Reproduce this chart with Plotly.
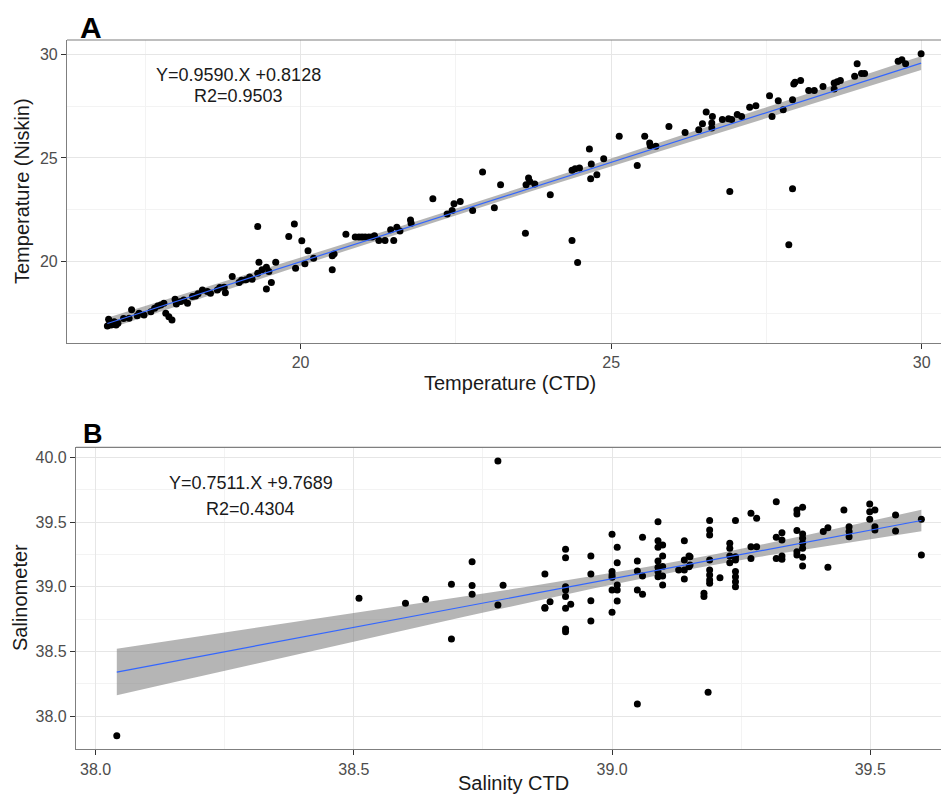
import numpy as np
import plotly.graph_objects as go

# Panel A: temperature, CTD vs Niskin bottle
temp_ctd = [16.91, 16.95, 17.00, 16.89, 17.03, 16.93, 17.06, 16.98,
            17.28, 17.24, 17.37, 17.48, 17.59, 17.70, 17.80, 17.83, 17.88, 17.93, 17.98, 18.07,
            18.18, 18.26, 18.31, 18.42, 18.55, 18.66, 18.79, 18.77, 18.90, 19.01, 19.12, 19.22,
            19.31, 19.33, 19.31, 19.45, 19.45, 19.53, 19.49, 19.60, 19.81, 19.90, 20.02, 20.12,
            19.92, 20.07, 20.21,
            17.15, 17.40, 17.65, 17.75, 18.00, 18.12, 18.35, 18.50, 18.70, 19.05, 19.18, 19.38,
            20.51, 20.51, 20.54, 20.73, 20.88, 20.94, 20.99, 21.04, 21.10, 21.15, 21.19, 21.26,
            21.36, 21.45, 21.50, 21.55, 21.60, 21.77, 21.78, 22.13, 22.36, 22.44, 22.47, 22.57,
            22.77, 22.93, 23.12, 23.22, 23.62, 23.63, 23.67, 23.69, 23.77, 24.02, 24.37, 24.46,
            24.37, 24.42, 24.49, 24.65, 24.68, 24.67, 24.77, 24.88, 25.13,
            25.42, 25.54, 25.62, 25.63, 25.72, 25.93, 26.19, 26.41, 26.47, 26.53, 26.62, 26.63,
            26.62, 26.79, 26.89, 26.94, 26.91, 27.03, 27.10, 27.23, 27.33, 27.55, 27.59, 27.69,
            27.77, 27.86, 27.92, 27.92, 27.94, 27.96, 28.05, 28.18, 28.27, 28.41, 28.59, 28.59,
            28.64, 28.69, 28.92, 28.96, 29.03, 29.08, 29.62, 29.68, 29.74, 29.99]
temp_niskin = [17.22, 16.94, 17.10, 16.89, 16.94, 17.05, 17.02, 16.98,
               17.67, 17.27, 17.38, 17.42, 17.58, 17.86, 17.99, 17.51, 17.34, 17.18, 18.18, 18.07,
               17.99, 18.31, 18.34, 18.63, 18.47, 18.63, 18.50, 18.76, 19.28, 18.99, 19.12, 19.15,
               21.69, 19.97, 19.44, 19.73, 18.68, 18.99, 19.52, 19.97, 21.21, 21.81, 21.00, 20.52,
               19.68, 19.89, 20.16,
               17.25, 17.50, 17.75, 17.90, 17.95, 18.15, 18.45, 18.55, 18.75, 19.10, 19.25, 19.60,
               19.60, 20.28, 20.37, 21.32, 21.19, 21.19, 21.18, 21.19, 21.18, 21.19, 21.24, 21.01,
               21.01, 21.53, 21.01, 21.66, 21.48, 22.01, 21.85, 23.03, 22.29, 22.46, 22.79, 22.90,
               22.46, 24.32, 22.59, 23.71, 21.37, 23.71, 24.03, 23.86, 23.74, 23.22, 21.01, 19.95,
               24.40, 24.48, 24.51, 25.43, 24.71, 24.00, 24.19, 24.96, 26.04,
               24.64, 26.04, 25.72, 25.59, 25.56, 26.52, 26.23, 26.36, 26.65, 27.22, 26.69, 27.00,
               26.44, 26.85, 26.89, 26.85, 23.38, 27.09, 27.00, 27.44, 27.52, 28.00, 27.00, 27.76,
               27.33, 20.81, 23.51, 27.81, 28.57, 28.65, 28.74, 28.25, 28.25, 28.45, 28.33, 28.62,
               28.67, 28.74, 28.94, 29.55, 29.07, 29.07, 29.66, 29.74, 29.55, 30.03]

# Panel B: salinity, CTD vs salinometer
sal_ctd = [38.041, 38.510, 38.600, 38.639, 38.689, 38.689, 38.729, 38.729, 38.729, 38.779,
           38.779, 38.789, 38.870, 38.870, 38.870, 38.880, 38.910, 38.910, 38.910, 38.910,
           38.910, 38.910, 38.910, 38.910, 38.920, 38.959, 38.959, 38.959, 38.959, 39.000,
           39.000, 39.000, 39.000, 39.000, 39.000, 39.010, 39.010, 39.010, 39.010, 39.010,
           39.049, 39.049, 39.049, 39.049, 39.059, 39.059, 39.059, 39.089, 39.089, 39.089,
           39.089, 39.089, 39.089, 39.089, 39.098, 39.098, 39.098, 39.098, 39.098, 39.129,
           39.140, 39.140, 39.140, 39.140, 39.149, 39.149, 39.151, 39.151,
           39.186, 39.189, 39.189, 39.189, 39.189, 39.189, 39.189, 39.189, 39.189, 39.178,
           39.178, 39.209, 39.228, 39.228, 39.228, 39.228, 39.239, 39.239, 39.239, 39.239,
           39.239, 39.239, 39.239, 39.269, 39.280, 39.269, 39.280, 39.269, 39.318, 39.318,
           39.329, 39.329, 39.318, 39.329, 39.329, 39.358, 39.358, 39.369, 39.358, 39.369,
           39.369, 39.369, 39.369, 39.358, 39.358, 39.369, 39.369, 39.409, 39.418, 39.418,
           39.449, 39.459, 39.459, 39.459, 39.499, 39.499, 39.499, 39.509, 39.509, 39.509,
           39.549, 39.549, 39.599, 39.599]
sal_meter = [37.850, 38.911, 38.873, 38.903, 39.019, 38.597, 39.194, 39.009, 38.942, 39.971,
             38.859, 39.012, 39.099, 38.834, 38.840, 38.885, 39.290, 39.225, 39.001, 38.975,
             38.924, 38.834, 38.674, 38.653, 38.865, 39.238, 39.099, 38.893, 38.736, 39.405,
             39.117, 39.091, 39.073, 38.975, 38.803, 39.305, 39.186, 39.014, 38.975, 38.890,
             39.199, 39.122, 38.975, 38.095, 39.382, 39.083, 38.942, 39.503, 39.356, 39.305,
             39.199, 39.150, 39.117, 39.078, 39.323, 39.238, 39.157, 39.083, 39.014, 39.130,
             39.356, 39.207, 39.130, 39.060, 39.238, 39.155, 39.232, 39.168,
             38.185, 39.511, 39.439, 39.400, 39.207, 39.130, 39.091, 39.053, 39.027, 38.950,
             38.924, 39.070, 39.336, 39.297, 39.238, 39.186, 39.511, 39.232, 39.207, 39.117,
             39.078, 39.039, 39.001, 39.568, 39.529, 39.310, 39.310, 39.219, 39.657, 39.382,
             39.418, 39.362, 39.219, 39.238, 39.212, 39.562, 39.593, 39.614, 39.434, 39.408,
             39.375, 39.336, 39.297, 39.271, 39.246, 39.228, 39.161, 39.426, 39.456, 39.150,
             39.593, 39.464, 39.426, 39.387, 39.639, 39.580, 39.521, 39.593, 39.464, 39.439,
             39.554, 39.431, 39.521, 39.246]

fit_a = {"slope": 0.9590, "intercept": 0.8128, "r2": 0.9503}
fit_b = {"slope": 0.7511, "intercept": 9.7689, "r2": 0.4304}

# the page body keeps its 8px margin, so the figure is 16px smaller than the window
PAGE_W, PAGE_H, OFF = 949, 804, 8
W, H = PAGE_W - 2 * OFF, PAGE_H - 2 * OFF
FONT = "Arial, Liberation Sans, sans-serif"


def px(x):
    # page pixel -> paper fraction
    return (x - OFF) / W


def py(y):
    return 1 - (y - OFF) / H


def smooth(x, y, fit, n_grid=80):
    # regression line plus 95% confidence band (as geom_smooth(method="lm"))
    x = np.asarray(x)
    y = np.asarray(y)
    b, a = fit["slope"], fit["intercept"]
    n = len(x)
    resid = y - (a + b * x)
    s = np.sqrt((resid ** 2).sum() / (n - 2))
    sxx = ((x - x.mean()) ** 2).sum()
    xs = np.linspace(x.min(), x.max(), n_grid)
    ys = a + b * xs
    se = s * np.sqrt(1 / n + (xs - x.mean()) ** 2 / sxx)
    return xs, ys, ys - 1.97 * se, ys + 1.97 * se


def add_panel(fig, x, y, fit, xa, ya):
    xs, ys, lo, hi = smooth(x, y, fit)
    fig.add_trace(go.Scatter(x=np.concatenate([xs, xs[::-1]]), y=np.concatenate([hi, lo[::-1]]),
                             fill="toself", fillcolor="rgba(120,120,120,0.55)", line=dict(width=0),
                             mode="lines", hoverinfo="skip", xaxis=xa, yaxis=ya))
    fig.add_trace(go.Scatter(x=x, y=y, mode="markers", marker=dict(color="black", size=7),
                             xaxis=xa, yaxis=ya))
    fig.add_trace(go.Scatter(x=xs, y=ys, mode="lines", line=dict(color="#3366FF", width=1.2),
                             xaxis=xa, yaxis=ya))


fig = go.Figure()
add_panel(fig, temp_ctd, temp_niskin, fit_a, "x", "y")
add_panel(fig, sal_ctd, sal_meter, fit_b, "x2", "y2")

axis_common = dict(
    showgrid=True, gridcolor="#E6E6E6", gridwidth=1, zeroline=False,
    showline=True, linecolor="#7F7F7F", linewidth=1.2,
    ticks="outside", ticklen=5, tickcolor="#333333",
    tickfont=dict(family=FONT, size=16, color="#4D4D4D"),
    automargin=False,
)

fig.update_layout(
    width=W, height=H,
    margin=dict(l=0, r=0, t=0, b=0),
    paper_bgcolor="white", plot_bgcolor="white",
    showlegend=False,
    font=dict(family=FONT),
    xaxis=dict(axis_common, domain=[px(67), 1], anchor="y", range=[16.24, 30.31],
               tick0=0, dtick=5,
               minor=dict(dtick=2.5, tick0=0, showgrid=True, gridcolor="#F3F3F3", ticks="")),
    yaxis=dict(axis_common, domain=[py(343), py(40)], anchor="x", range=[16.07, 30.69],
               tick0=0, dtick=5,
               minor=dict(dtick=2.5, tick0=0, showgrid=True, gridcolor="#F3F3F3", ticks="")),
    xaxis2=dict(axis_common, domain=[px(76), 1], anchor="y2", range=[37.962, 39.637],
                tick0=38, dtick=0.5, tickformat=".1f",
                minor=dict(dtick=0.25, tick0=38, showgrid=True, gridcolor="#F3F3F3", ticks="")),
    yaxis2=dict(axis_common, domain=[py(749.3), py(447.3)], anchor="x2", range=[37.745, 40.077],
                tick0=38, dtick=0.5, tickformat=".1f",
                minor=dict(dtick=0.25, tick0=38, showgrid=True, gridcolor="#F3F3F3", ticks="")),
)

# top borders of the panels
for x0, ytop in [(67, 40), (76, 447.3)]:
    fig.add_shape(type="line", xref="paper", yref="paper", x0=px(x0), x1=1, y0=py(ytop), y1=py(ytop),
                  line=dict(color="#7F7F7F", width=1.2))

# fit equations
eq_font = dict(family=FONT, size=18, color="#1A1A1A")
for xr, yr, xv, y1, y2, fit in [("x", "y", 19.0, 29.0, 28.0, fit_a), ("x2", "y2", 38.3, 39.8, 39.6, fit_b)]:
    fig.add_annotation(x=xv, y=y1, xref=xr, yref=yr, showarrow=False, font=eq_font,
                       text="Y=%.4f.X +%.4f" % (fit["slope"], fit["intercept"]))
    fig.add_annotation(x=xv, y=y2, xref=xr, yref=yr, showarrow=False, font=eq_font,
                       text="R2=%.4f" % fit["r2"])

# panel letters and axis titles (page pixel positions)
title_font = dict(family=FONT, size=20, color="#1A1A1A")
labels = [
    ("A", 91, 27, dict(family=FONT, size=30, color="black"), 0, True),
    ("B", 93, 434, dict(family=FONT, size=27, color="black"), 0, True),
    ("Temperature (CTD)", 510, 383, title_font, 0, False),
    ("Temperature (Niskin)", 22, 191, title_font, -90, False),
    ("Salinity CTD", 513, 783, title_font, 0, False),
    ("Salinometer", 20, 598, title_font, -90, False),
]
for text, x, y, f, ang, bold in labels:
    fig.add_annotation(x=px(x), y=py(y), xref="paper", yref="paper", showarrow=False,
                       text="<b>%s</b>" % text if bold else text, font=f, textangle=ang,
                       xanchor="center", yanchor="middle")

fig.write_html("out.html")
